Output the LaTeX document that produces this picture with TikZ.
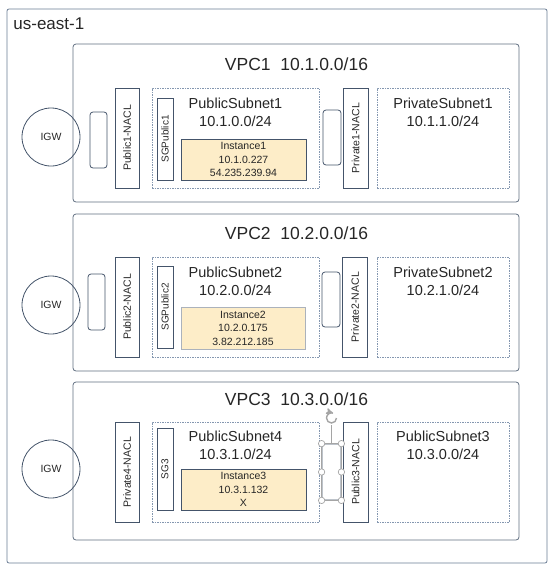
\documentclass[tikz,border=0pt]{standalone}
\usepackage{fontspec}
\setmainfont{Liberation Sans}
\usetikzlibrary{arrows}
\definecolor{edgec}{RGB}{68,84,106}
\definecolor{dashc}{RGB}{132,151,176}
\definecolor{instc}{RGB}{253,237,200}
\definecolor{handc}{RGB}{165,165,165}

\begin{document}
\begin{tikzpicture}[x=1pt,y=-1pt,line width=0.8pt,
  every node/.style={inner sep=0pt,text=black!85},
  region/.style={draw=dashc!60!edgec,rounded corners=2pt,minimum width=540pt,minimum height=554pt},
  vpc/.style={draw=edgec!85,rounded corners=3pt,minimum width=446pt,minimum height=158pt},
  vpctitle/.style={anchor=base,font=\fontsize{17.5}{21}\selectfont},
  igw/.style={circle,draw=edgec,minimum size=58pt,font=\fontsize{10.5}{12}\selectfont},
  port/.style={draw=edgec,rounded corners=3pt,minimum width=17pt,minimum height=56pt},
  nacl/.style={draw=edgec,rotate=90,minimum width=100pt,minimum height=24pt,font=\fontsize{10.5}{12}\selectfont},
  subnet/.style={draw=dashc,dash pattern=on 1.5pt off 1pt,minimum height=100pt},
  subtitle/.style={align=center,font=\fontsize{14.5}{18}\selectfont},
  sg/.style={draw=edgec,rotate=90,minimum width=82pt,minimum height=16pt,font=\fontsize{10}{12}\selectfont},
  inst/.style={draw=edgec,fill=instc,minimum width=125pt,minimum height=41pt,align=center,font=\fontsize{10.5}{13.5}\selectfont},
  handle/.style={draw=handc,fill=white,line width=0.7pt}]
\useasboundingbox (0,0) rectangle (557,568);
\node[region] (R) at (277,286) {};
\node[anchor=base west,font=\fontsize{17}{20}\selectfont] (Rt) at (13,29) {us-east-1};

\node[vpc] (V1) at (296,123) {};
\node[vpctitle] (V1t) at (296.5,70) {VPC1\ \ 10.1.0.0/16};
\node[igw] (G1) at (51,137) {IGW};
\node[port] (P1) at (98.5,140) {};
\node[nacl] (NA1) at (127,138) {Public1-NACL};
\node[subnet,minimum width=167pt] (S1) at (235.5,138) {};
\node[sg] (SG1) at (165,139) {SGPublic1};
\node[subtitle] (S1t) at (235.5,112) {PublicSubnet1\\10.1.0.0/24};
\node[inst] (I1) at (243.5,159.5) {Instance1\\10.1.0.227\\54.235.239.94};
\node[port,minimum width=18pt,minimum height=55pt] (Q1) at (332,137.5) {};
\node[nacl,minimum height=25pt] (NB1) at (355.5,138) {Private1-NACL};
\node[subnet,minimum width=132pt] (T1) at (443,138) {};
\node[subtitle] (T1t) at (443,112) {PrivateSubnet1\\10.1.1.0/24};

\node[vpc,minimum height=157pt] (V2) at (296,292.5) {};
\node[vpctitle] (V2t) at (296.5,239) {VPC2\ \ 10.2.0.0/16};
\node[igw] (G2) at (51,305) {IGW};
\node[port] (P2) at (96.5,302) {};
\node[nacl] (NA2) at (127,307) {Public2-NACL};
\node[subnet,minimum width=167pt] (S2) at (235.5,307) {};
\node[sg] (SG2) at (165,307) {SGPublic2};
\node[subtitle] (S2t) at (235.5,281) {PublicSubnet2\\10.2.0.0/24};
\node[inst,draw=edgec!45,minimum width=124pt,minimum height=42pt] (I2) at (243,328) {Instance2\\10.2.0.175\\3.82.212.185};
\node[port,minimum width=18pt,minimum height=55pt] (Q2) at (331,299.5) {};
\node[nacl,minimum height=25pt] (NB2) at (355,307) {Private2-NACL};
\node[subnet,minimum width=132pt] (T2) at (443,307) {};
\node[subtitle] (T2t) at (443,281) {PrivateSubnet2\\10.2.1.0/24};

\node[vpc] (V3) at (296,461) {};
\node[vpctitle] (V3t) at (296.5,405) {VPC3\ \ 10.3.0.0/16};
\node[igw] (G3) at (51,469) {IGW};
\node[nacl] (NA3) at (127,472) {Private4-NACL};
\node[subnet,minimum width=167pt] (S3) at (235.5,472) {};
\node[sg] (SG3) at (165,469) {SG3};
\node[subtitle] (S3t) at (235.5,445) {PublicSubnet4\\10.3.1.0/24};
\node[inst] (I3) at (243.5,489.5) {Instance3\\10.3.1.132\\X};
\node[port,minimum width=19pt,minimum height=56pt] (Q3) at (331.5,472) {};
\node[nacl,minimum height=25pt] (NB3) at (355.5,472) {Public3-NACL};
\node[subnet,minimum width=132pt] (T3) at (443,472) {};
\node[subtitle] (T3t) at (443,445) {PublicSubnet3\\10.3.0.0/24};

\draw[handc,line width=0.6pt] (Q3.north west) rectangle (Q3.south east);
\draw[handc,line width=0.6pt] (Q3.north) -- ++(0,-19);
\path[handle] (Q3.north west) circle (3.2) (Q3.north east) circle (3.2)
  (Q3.west) circle (3.2) (Q3.east) circle (3.2)
  (Q3.south west) circle (3.2) (Q3.south east) circle (3.2);
\draw[handc,line width=1.4pt,->,>=stealth'] (336.5,418) arc[start angle=0,end angle=290,radius=5];
\end{tikzpicture}
\end{document}
